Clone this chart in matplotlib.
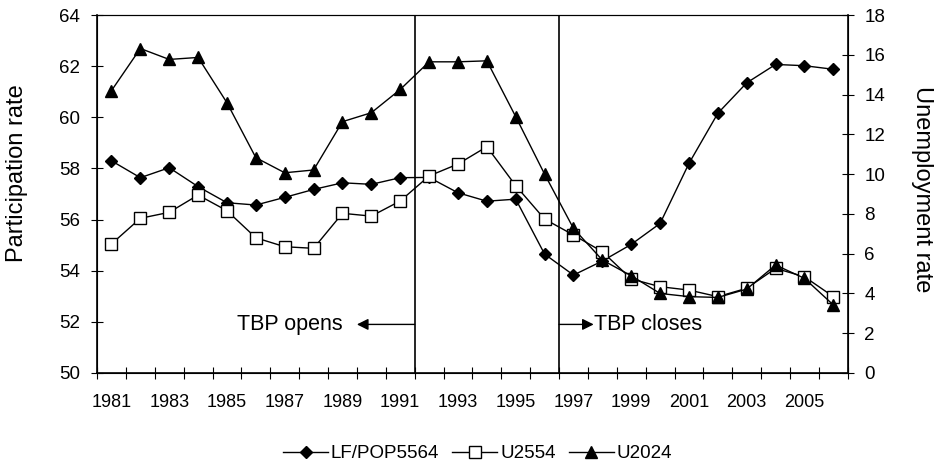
import matplotlib
matplotlib.use("Agg")
import matplotlib.pyplot as plt
from matplotlib.lines import Line2D

plt.rcParams['font.family'] = ['Liberation Sans', 'DejaVu Sans']

# Datos
years = list(range(1981, 2007))
lf_pop5564 = [58.3, 57.64, 58.03, 57.29, 56.66, 56.57, 56.87, 57.18, 57.44, 57.38,
              57.64, 57.65, 57.05, 56.72, 56.8, 54.65, 53.83, 54.38, 55.03, 55.85,
              58.2, 60.16, 61.35, 62.07, 62.02, 61.88]
u2554 = [6.49, 7.78, 8.08, 8.95, 8.16, 6.8, 6.35, 6.27, 8.03, 7.89,
         8.65, 9.91, 10.51, 11.38, 9.42, 7.74, 6.94, 6.1, 4.73, 4.34,
         4.17, 3.84, 4.26, 5.26, 4.84, 3.84]
u2024 = [14.2, 16.32, 15.77, 15.87, 13.59, 10.83, 10.07, 10.21, 12.64, 13.09,
         14.26, 15.65, 15.65, 15.7, 12.89, 10.0, 7.27, 5.68, 4.89, 4.0,
         3.84, 3.8, 4.22, 5.43, 4.76, 3.42]
tick_labels = [str(y) if (y - 1981) % 2 == 0 else '' for y in years]

x = list(range(len(years)))

fig = plt.figure(figsize=(9.42, 4.66), dpi=100)
ax = fig.add_axes([0.103, 0.1996, 0.797, 0.768])
ax2 = ax.twinx()

ax.plot(x, lf_pop5564, color='black', lw=1, marker='D', markersize=6.5, zorder=3)
ax2.plot(x, u2554, color='black', lw=1, marker='s', markersize=8,
         markerfacecolor='white', markeredgewidth=1, zorder=3)
ax2.plot(x, u2024, color='black', lw=1, marker='^', markersize=9, zorder=4)

ax.set_xlim(-0.5, len(years) - 0.5)
ax.set_ylim(50, 64)
ax2.set_ylim(0, 18)
ax.set_yticks(range(50, 65, 2))
ax2.set_yticks(range(0, 19, 2))

# marcas entre categorias, etiquetas centradas
ax.set_xticks([i - 0.5 for i in range(len(years) + 1)])
ax.set_xticklabels([])
ax.set_xticks(x, minor=True)
ax.set_xticklabels(tick_labels, minor=True)
ax.tick_params(axis='x', which='minor', length=0, pad=15, labelsize=13)
ax.tick_params(axis='x', which='major', direction='inout', length=8)
ax.tick_params(axis='y', direction='inout', length=8, pad=8, labelsize=13.5)
ax2.tick_params(axis='y', direction='inout', length=8, pad=8, labelsize=13.5)

fig.text(17 / 942, 1 - 173 / 466, 'Participation rate', fontsize=17, rotation=90,
         ha='center', va='center', rotation_mode='anchor')
fig.text(922 / 942, 1 - 189 / 466, 'Unemployment rate', fontsize=17, rotation=-90,
         ha='center', va='center', rotation_mode='anchor')

for s in ['left', 'bottom', 'right']:
    ax2.spines[s].set_linewidth(1.2)
ax2.spines['top'].set_linewidth(0.8)

# lineas verticales TBP
ax.axvline(10.5, color='black', lw=1.2)
ax.axvline(15.5, color='black', lw=1.2)

ax.annotate('', xy=(8.5, 51.9), xytext=(10.5, 51.9),
            arrowprops=dict(arrowstyle='-|>', color='black', lw=1, mutation_scale=17,
                            shrinkA=0, shrinkB=0))
ax.text(8.02, 51.9, 'TBP opens', ha='right', va='center', fontsize=15.5)
ax.annotate('', xy=(16.7, 51.9), xytext=(15.5, 51.9),
            arrowprops=dict(arrowstyle='-|>', color='black', lw=1, mutation_scale=17,
                            shrinkA=0, shrinkB=0))
ax.text(16.72, 51.9, 'TBP closes', ha='left', va='center', fontsize=15.5)

handles = [
    Line2D([], [], color='black', lw=1, marker='D', markersize=6.5),
    Line2D([], [], color='black', lw=1, marker='s', markersize=8, markerfacecolor='white'),
    Line2D([], [], color='black', lw=1, marker='^', markersize=9),
]
fig.legend(handles, ['LF/POP5564', 'U2554', 'U2024'], loc='center',
           bbox_to_anchor=(0.507, 0.026), ncol=3, frameon=False, fontsize=13.5,
           handlelength=2.4, handletextpad=0.15, columnspacing=0.7,
           borderpad=0, borderaxespad=0)

plt.savefig('out.png', dpi=100)
